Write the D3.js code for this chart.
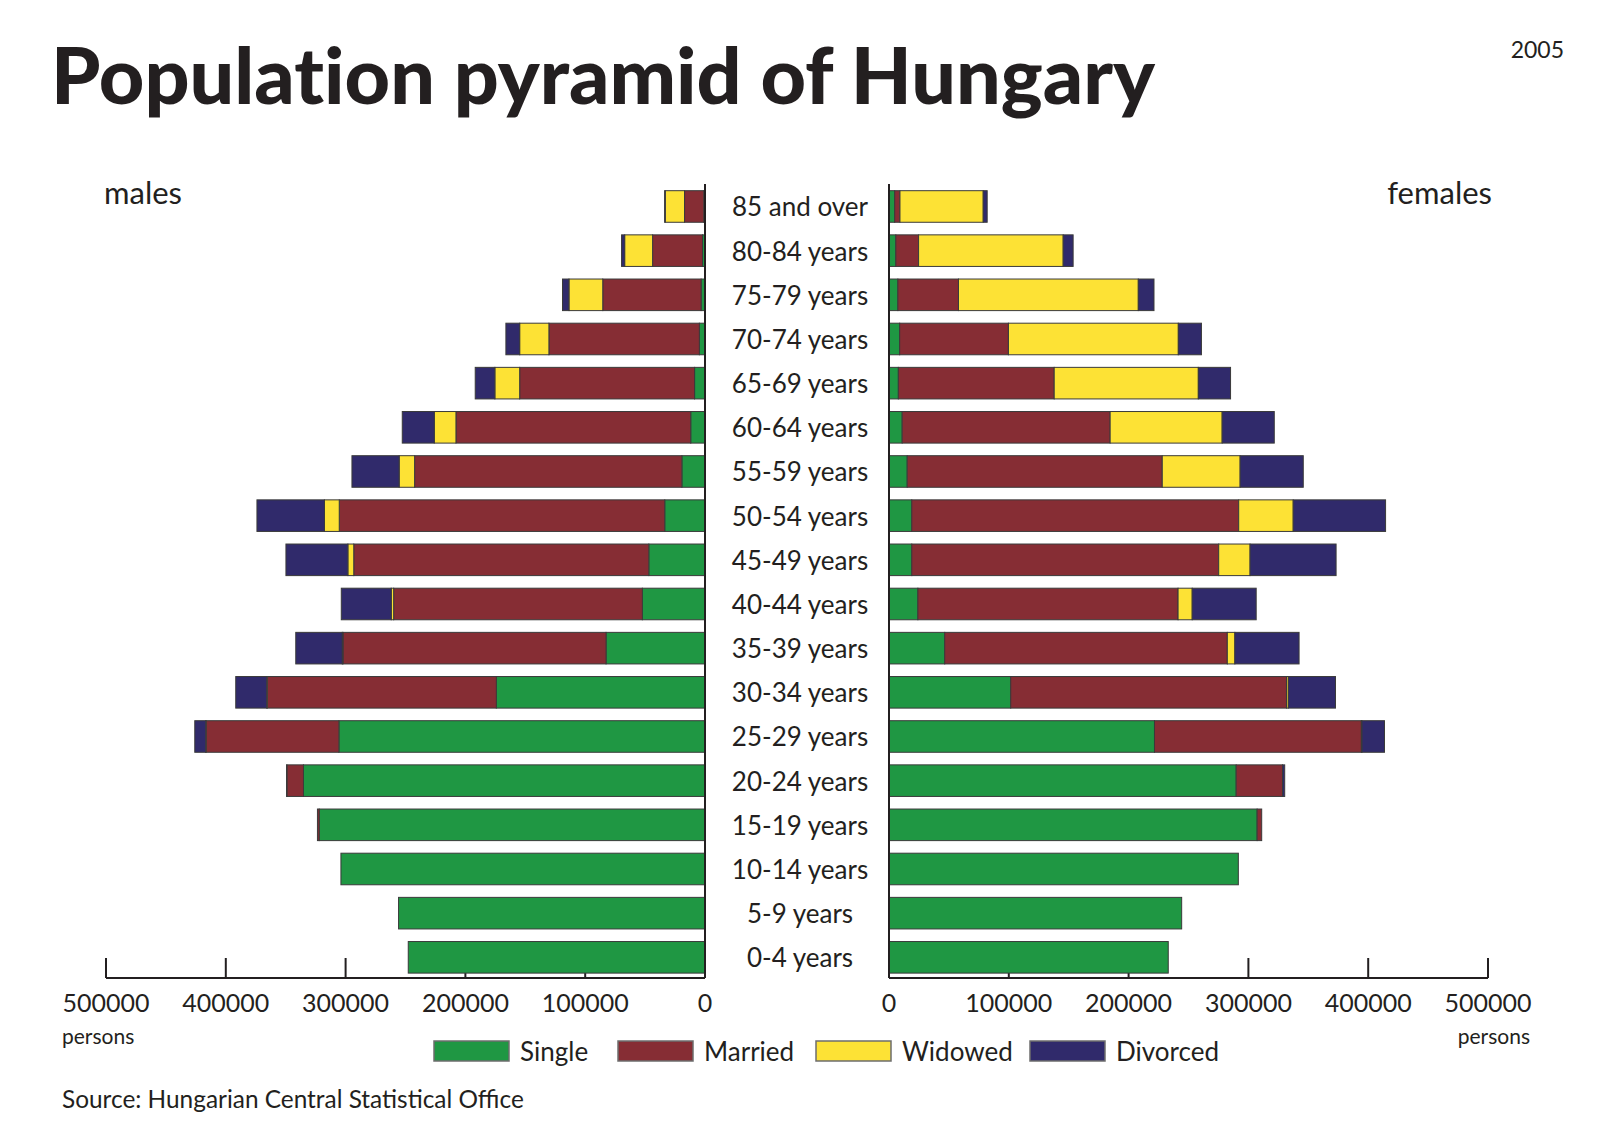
<!DOCTYPE html>
<html>
<head>
<meta charset="utf-8">
<script src="https://cdn.jsdelivr.net/npm/d3@7/dist/d3.min.js"></script>
<style>
  html, body { margin: 0; padding: 0; background: #fff; }
  svg { display: block; }
  text { font-family: Lato, "Open Sans", sans-serif; fill: #231f20; }
  .title { font-variant-ligatures: none; }
</style>
</head>
<body>
<svg id="chart" width="1599" height="1140"></svg>
<script>
// ---------------- DATA ----------------
const categories = ["85 and over","80-84 years","75-79 years","70-74 years","65-69 years","60-64 years","55-59 years","50-54 years","45-49 years","40-44 years","35-39 years","30-34 years","25-29 years","20-24 years","15-19 years","10-14 years","5-9 years","0-4 years"];

const seriesNames = ["Single","Married","Widowed","Divorced"];

const maleSingle   = [1000, 2100, 3250, 4700, 8700, 11900, 19300, 33600, 46900, 52300, 82600, 174200, 305600, 335200, 322000, 303900, 255800, 247700];
const maleMarried  = [16100, 41650, 82100, 125600, 146000, 196000, 223100, 271700, 246300, 207600, 219600, 191200, 110900, 13800, 1500, 0, 0, 0];
const maleWidowed  = [16100, 23300, 28200, 24400, 20700, 18100, 12900, 12400, 4900, 2000, 600, 400, 200, 0, 0, 0, 0, 0];
const maleDivorced = [500, 2600, 5400, 11500, 16400, 26700, 39400, 56300, 51700, 41700, 38800, 25900, 9200, 300, 0, 0, 0, 0];

const femaleSingle   = [4750, 5700, 7400, 8900, 7800, 11000, 15200, 19000, 19000, 24100, 46500, 101600, 221600, 289800, 307300, 291600, 244300, 233100];
const femaleMarried  = [4400, 19000, 50600, 90800, 130100, 173600, 212900, 272900, 256200, 217200, 235900, 230200, 172700, 38700, 3800, 0, 0, 0];
const femaleWidowed  = [69500, 120700, 150100, 141800, 120300, 93500, 65000, 45500, 26200, 11800, 6300, 1500, 500, 0, 0, 0, 0, 0];
const femaleDivorced = [3300, 8300, 13100, 19300, 26900, 43500, 52700, 77100, 71800, 53400, 53600, 39400, 18800, 1800, 0, 0, 0, 0];

const tickValues = [0, 100000, 200000, 300000, 400000, 500000];
const colors = ["#1f9743", "#862d34", "#fde235", "#302a6b"];

const titleText = "Population pyramid of Hungary";
const yearText = "2005";
const sourceText = "Source: Hungarian Central Statistical Office";

// ---------------- BUILD ----------------
const svg = d3.select("#chart");
const ink = "#231f20";

const maleRows = categories.map((c, i) => ({cat: c, Single: maleSingle[i], Married: maleMarried[i], Widowed: maleWidowed[i], Divorced: maleDivorced[i]}));
const femaleRows = categories.map((c, i) => ({cat: c, Single: femaleSingle[i], Married: femaleMarried[i], Widowed: femaleWidowed[i], Divorced: femaleDivorced[i]}));

const stack = d3.stack().keys(seriesNames);
const maleStack = stack(maleRows);
const femaleStack = stack(femaleRows);

const xLeft = d3.scaleLinear().domain([0, 500000]).range([705, 106]);
const xRight = d3.scaleLinear().domain([0, 500000]).range([889, 1488]);
const y = d3.scaleBand().domain(categories).range([178.1, 985.7]).padding(0.285);
const color = d3.scaleOrdinal().domain(seriesNames).range(colors);

const axisY = 978;

// Ticks (drawn under bars)
function drawAxis(scale, x0, x1) {
  const g = svg.append("g");
  g.append("line").attr("x1", x0).attr("x2", x1).attr("y1", axisY).attr("y2", axisY)
    .attr("stroke", ink).attr("stroke-width", 2);
  g.selectAll("line.tick").data(tickValues).join("line")
    .attr("class", "tick")
    .attr("x1", d => scale(d)).attr("x2", d => scale(d))
    .attr("y1", axisY - 20).attr("y2", axisY)
    .attr("stroke", ink).attr("stroke-width", 2);
  g.selectAll("text.tl").data(tickValues).join("text")
    .attr("class", "tl")
    .attr("x", d => scale(d)).attr("y", 1012)
    .attr("text-anchor", "middle")
    .attr("font-size", 25)
    .text(d => d3.format("d")(d));
}
drawAxis(xLeft, 106, 705);
drawAxis(xRight, 889, 1488);

// Bars
function drawBars(stacked, scale) {
  const g = svg.append("g");
  g.selectAll("g").data(stacked).join("g")
    .attr("fill", d => color(d.key))
    .selectAll("rect")
    .data(d => d.filter(s => s[1] - s[0] > 0))
    .join("rect")
    .attr("x", s => Math.min(scale(s[0]), scale(s[1])))
    .attr("width", s => Math.abs(scale(s[1]) - scale(s[0])))
    .attr("y", s => y(s.data.cat))
    .attr("height", y.bandwidth())
    .attr("stroke", "#3a3a3a")
    .attr("stroke-width", 1);
}
drawBars(maleStack, xLeft);
drawBars(femaleStack, xRight);

// Central vertical axis lines
[705, 889].forEach(x => {
  svg.append("line").attr("x1", x).attr("x2", x).attr("y1", 184).attr("y2", axisY)
    .attr("stroke", ink).attr("stroke-width", 2);
});

// Category labels
svg.append("g").selectAll("text").data(categories).join("text")
  .attr("x", 800)
  .attr("y", d => y(d) + y.bandwidth() / 2 + 10)
  .attr("text-anchor", "middle")
  .attr("font-size", 26)
  .text(d => d);

// Title and texts
svg.append("text").attr("class", "title").attr("x", 51).attr("y", 104)
  .attr("font-size", 79).attr("font-weight", 900)
  .text(titleText);
svg.append("text").attr("x", 1564).attr("y", 58).attr("text-anchor", "end")
  .attr("font-size", 23).text(yearText);
svg.append("text").attr("x", 104).attr("y", 204).attr("font-size", 31).text("males");
svg.append("text").attr("x", 1492).attr("y", 204).attr("text-anchor", "end").attr("font-size", 31).text("females");
svg.append("text").attr("x", 62).attr("y", 1044).attr("font-size", 21).text("persons");
svg.append("text").attr("x", 1530).attr("y", 1044).attr("text-anchor", "end").attr("font-size", 21).text("persons");
svg.append("text").attr("x", 62).attr("y", 1108).attr("font-size", 24.4).text(sourceText);

// Legend
const legendX = [434, 618, 816, 1030];
const legend = svg.append("g").selectAll("g").data(seriesNames).join("g")
  .attr("transform", (d, i) => `translate(${legendX[i]},1041)`);
legend.append("rect").attr("width", 75).attr("height", 20)
  .attr("fill", d => color(d)).attr("stroke", "#6d6d6d").attr("stroke-width", 1.5);
legend.append("text").attr("x", 86).attr("y", 20).attr("font-size", 26).text(d => d);
</script>
</body>
</html>
